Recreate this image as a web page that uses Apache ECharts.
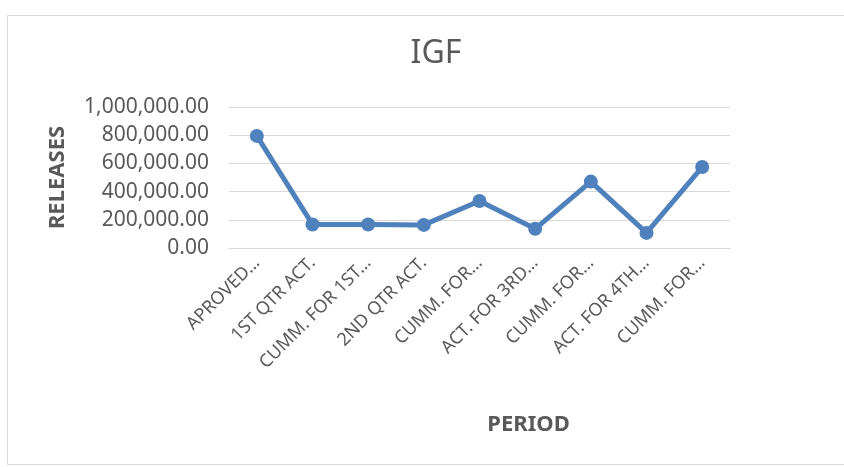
<!DOCTYPE html>
<html>
<head>
<meta charset="utf-8">
<script src="https://cdn.jsdelivr.net/npm/echarts@6/dist/echarts.min.js"></script>
<style>
  html, body { margin: 0; padding: 0; background: #fff; }
  #chart { width: 844px; height: 467px; }
</style>
</head>
<body>
<div id="chart"></div>
<script>
// period labels as shown (truncated by the original chart)
var periods = ['APROVED…', '1ST QTR ACT.', 'CUMM. FOR 1ST…', '2ND QTR ACT.', 'CUMM. FOR…',
    'ACT. FOR 3RD…', 'CUMM. FOR…', 'ACT. FOR 4TH…', 'CUMM. FOR…'];
var releases = [795000, 167000, 167000, 164000, 333000, 136000, 471000, 107000, 574000];
var yTicks = { min: 0, max: 1000000, step: 200000 };

var fmt = function(v) {
    return v.toLocaleString('en-US', { minimumFractionDigits: 2, maximumFractionDigits: 2 });
};

var myChart = echarts.init(document.getElementById('chart'));
myChart.setOption({
    animation: false,
    textStyle: { fontFamily: 'Noto Sans, sans-serif' },
    title: {
        text: 'IGF',
        left: 431, top: 33, textAlign: 'center',
        textStyle: { fontSize: 32, fontWeight: 'normal', color: '#595959' }
    },
    graphic: [{
        type: 'rect',
        shape: { x: 7.5, y: 15.5, width: 850, height: 449 },
        style: { fill: 'none', stroke: '#d9d9d9', lineWidth: 1 },
        silent: true
    }],
    grid: { left: 229, right: 114, top: 107, bottom: 219 },
    xAxis: {
        type: 'category',
        data: periods,
        name: 'PERIOD',
        nameLocation: 'middle',
        nameGap: 166,
        nameTextStyle: { fontSize: 22, fontWeight: 'bold', color: '#595959', padding: [0, 0, 0, 98] },
        axisLine: { lineStyle: { color: '#d9d9d9', width: 1 } },
        axisTick: { show: false },
        axisLabel: { rotate: 45, fontSize: 18, color: '#595959', interval: 0, margin: 12 }
    },
    yAxis: {
        type: 'value',
        min: yTicks.min, max: yTicks.max, interval: yTicks.step,
        name: 'RELEASES',
        nameLocation: 'middle',
        nameGap: 160,
        nameTextStyle: { fontSize: 22, fontWeight: 'bold', color: '#595959' },
        axisLine: { show: false },
        axisTick: { show: false },
        splitLine: { lineStyle: { color: '#d9d9d9', width: 1 } },
        axisLabel: { fontSize: 21, color: '#595959', margin: 20, formatter: fmt }
    },
    series: [{
        type: 'line',
        data: releases,
        symbol: 'circle',
        symbolSize: 14,
        lineStyle: { color: '#4f81bd', width: 5 },
        itemStyle: { color: '#4f81bd' }
    }]
});
</script>
</body>
</html>
